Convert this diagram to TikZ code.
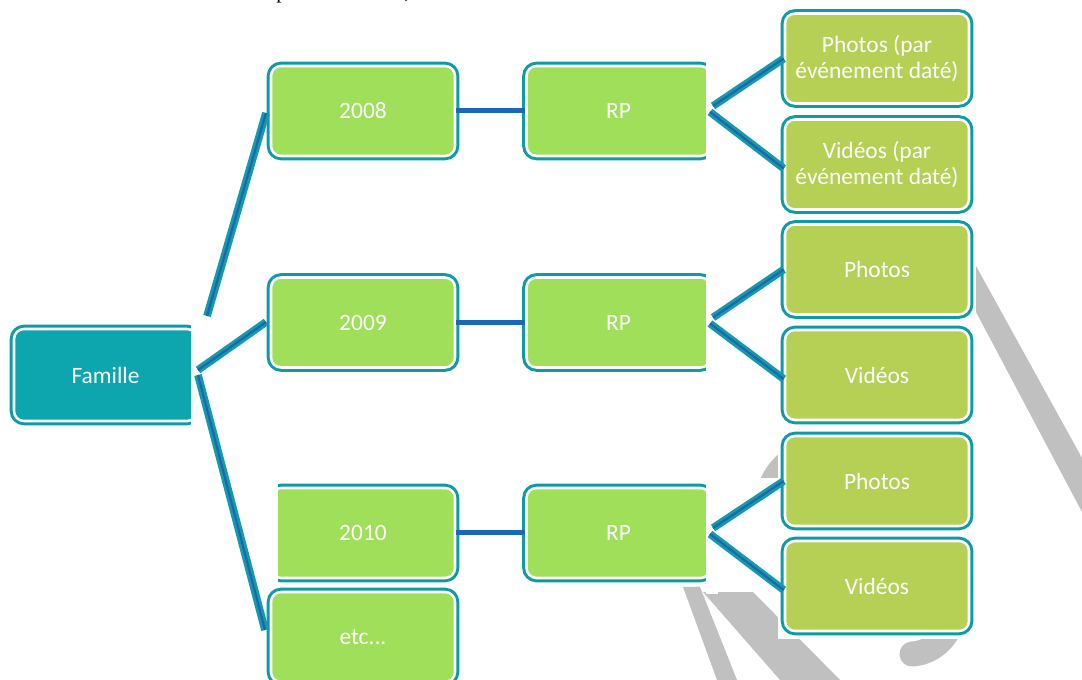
\documentclass[tikz,border=0pt]{standalone}
\usepackage{fontspec}
\setmainfont{Carlito}
\newfontfamily\serifx{Liberation Serif}
\definecolor{yg}{RGB}{160,223,90}
\definecolor{og}{RGB}{181,208,84}
\definecolor{famfill}{RGB}{13,166,174}
\definecolor{bordt}{RGB}{14,155,165}
\definecolor{connt}{RGB}{20,155,168}
\definecolor{connb}{RGB}{30,100,180}
\definecolor{hblue}{RGB}{25,104,185}
\definecolor{lgray}{RGB}{192,192,192}
\begin{document}
\begin{tikzpicture}[x=0.75pt,y=-0.75pt,
  box/.style={draw=white, line width=1.9pt, rounded corners=7.5pt,
    preaction={draw=bordt, line width=6.4pt}, text=white,
    font=\fontsize{17.6}{19.5}\selectfont, align=center, inner sep=0pt,
    minimum width=138pt, minimum height=67.5pt},
  yearbox/.style={box, fill=yg},
  catbox/.style={box, fill=og},
  rootbox/.style={box, fill=famfill, minimum width=137.25pt, minimum height=69pt},
  conn/.style={draw=connt, line width=2.1pt, double=connb, double distance=1.6pt},
  hconn/.style={draw=hblue, line width=3.75pt},
  mask/.style={fill=white, draw=none},
  grayshape/.style={fill=lgray, draw=none},
  frag/.style={font=\serifx\fontsize{16}{19}\selectfont, inner sep=0pt, anchor=base west}]
\useasboundingbox (0,0) rectangle (1082,680);
% background drawing (gray)
\fill[grayshape] (976,266) -- (1082,458) -- (1082,512) -- (976,312) -- cycle;
\fill[grayshape] (683,587) -- (700,587) -- (737,680) -- (717,680) -- cycle;
\fill[grayshape] (703,592) -- (753,592) -- (840,680) -- (780,680) -- cycle;
\draw[lgray, line width=18.75pt, line cap=round] (768,500) .. controls (775,420) and (940,420) .. (955,550) .. controls (968,615) and (945,652) .. (912,654);
% white masks of the diagram
\fill[mask] (778,0) rectangle (974,639);
\fill[mask] (706,478) rectangle (780,592);
\fill[mask] (520,478) rectangle (706,586);
% cut-off text line at the top
\node[frag] (t1) at (276,-1.5) {p};
\node[frag] (t2) at (404,-1) {,};
% boxes
\node[rootbox] (fam) at (105.5,375) {Famille};
\node[yearbox] (y8) at (363,111) {2008};
\node[yearbox] (y9) at (363,322.5) {2009};
\node[yearbox] (y10) at (363,533) {2010};
\node[yearbox] (etc) at (363,637) {etc...};
\node[yearbox] (rp1) at (618.5,111) {RP};
\node[yearbox] (rp2) at (618.5,322.5) {RP};
\node[yearbox] (rp3) at (618.5,533) {RP};
\node[catbox] (p1) at (877,58.5) {Photos (par\\événement daté)};
\node[catbox] (v1) at (877,164.5) {Vidéos (par\\événement daté)};
\node[catbox] (p2) at (877,269.5) {Photos};
\node[catbox] (v2) at (877,375) {Vidéos};
\node[catbox] (p3) at (877,481) {Photos};
\node[catbox] (v3) at (877,586) {Vidéos};
% cuts
\fill[mask] (191,316) rectangle (203,432);
\fill[mask] (258,478) rectangle (278,587);
\fill[mask] (706,50) rectangle (718,172);
\fill[mask] (706,262) rectangle (718,384);
\fill[mask] (706,472) rectangle (718,594);
% connector end points
\coordinate (f1) at (207,316);
\coordinate (f2) at (198,370);
\coordinate (f3) at (198,375);
\coordinate (e1) at (266,113);
\coordinate (e2) at (266,322);
\coordinate (e3) at (265,630);
\draw[conn] (f1) -- (e1);
\draw[conn] (f2) -- (e2);
\draw[conn] (f3) -- (e3);
\draw[hconn] (y8.east) -- (rp1.west);
\draw[hconn] (y9.east) -- (rp2.west);
\draw[hconn] (y10.east) -- (rp3.west);
\coordinate (r1a) at (713,106);
\coordinate (r1b) at (710,112);
\coordinate (r2a) at (713,317.5);
\coordinate (r2b) at (710,323.5);
\coordinate (r3a) at (713,528);
\coordinate (r3b) at (710,534);
\draw[conn] (r1a) -- (p1.west);
\draw[conn] (r1b) -- ([yshift=-3pt]v1.west);
\draw[conn] (r2a) -- (p2.west);
\draw[conn] (r2b) -- ([yshift=-3pt]v2.west);
\draw[conn] (r3a) -- (p3.west);
\draw[conn] (r3b) -- ([yshift=-3pt]v3.west);
\end{tikzpicture}
\end{document}
